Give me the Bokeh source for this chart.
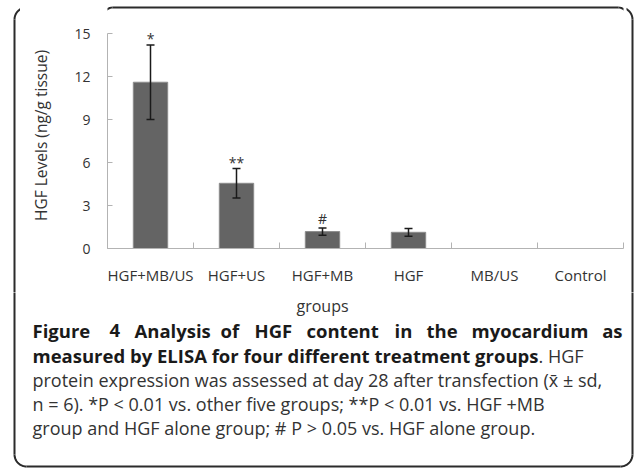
import numpy as np
from bokeh.plotting import figure
from bokeh.layouts import column, row
from bokeh.models import (ColumnDataSource, Whisker, FixedTicker, Range1d,
                          TeeHead)
from bokeh.embed import file_html
from bokeh.resources import INLINE
from bokeh.core.properties import value

# ---------------- data ----------------
groups = ["HGF+MB/US", "HGF+US", "HGF+MB", "HGF", "MB/US", "Control"]
means = [11.6, 4.55, 1.18, 1.13, 0.0, 0.0]
sds = [2.6, 1.03, 0.25, 0.27, 0.0, 0.0]
marks = ["*", "**", "#", "", "", ""]
y_ticks = [0, 3, 6, 9, 12, 15]
y_max = 15
y_label = "HGF Levels (ng/g tissue)"
x_label = "groups"
caption_line1 = ["Figure", "4", "Analysis", "of", "HGF", "content", "in", "the",
                 "myocardium", "as"]
caption_line2_bold = "measured by ELISA for four different treatment groups"
caption_line2_rest = ". HGF"
caption_line3 = "protein expression was assessed at day 28 after transfection (x\u0304 \u00b1 sd,"
caption_line4 = "n = 6). *P < 0.01 vs. other five groups; **P < 0.01 vs. HGF +MB"
caption_line5 = "group and HGF alone group; # P > 0.05 vs. HGF alone group."

FONT = "Open Sans"
PW, PH = 635, 469          # whole picture
TOP_H = 22                 # strip above the chart
SPLIT = 292                # page y where the caption area starts
LEFT_W, RIGHT_W = 20, 9
CHART_W = PW - LEFT_W - RIGHT_W
CHART_H = SPLIT - TOP_H
AX_TOP, AX_BOT, AX_LEFT, AX_RIGHT = 33, 248, 107, 623   # page px of the axes

# rounded frame around chart + caption (page pixel coordinates)
BX0, BX1, BY0, BY1, BR = 14, 632, 7, 466, 12
BOX_COLOR = "#2b2b2b"


def corner_arcs():
    """four quarter arcs + four straight edges of the rounded frame"""
    arcs_x, arcs_y = [], []
    for cxp, cyp, a0, a1 in [(BX1 - BR, BY0 + BR, -90, 0), (BX1 - BR, BY1 - BR, 0, 90),
                             (BX0 + BR, BY1 - BR, 90, 180), (BX0 + BR, BY0 + BR, 180, 270)]:
        t = np.radians(np.linspace(a0, a1, 12))
        arcs_x.append(list(cxp + BR * np.cos(t)))
        arcs_y.append(list(cyp + BR * np.sin(t)))
    edges_x = [[BX0 + BR, BX1 - BR], [BX1, BX1], [BX0 + BR, BX1 - BR], [BX0, BX0]]
    edges_y = [[BY0, BY0], [BY0 + BR, BY1 - BR], [BY1, BY1], [BY0 + BR, BY1 - BR]]
    return arcs_x + edges_x, arcs_y + edges_y


BOX_XS, BOX_YS = corner_arcs()


def strip(x0, x1, y0, y1):
    f = figure(width=x1 - x0, height=y1 - y0, x_range=Range1d(x0, x1),
               y_range=Range1d(y1, y0), x_axis_type=None, y_axis_type=None,
               min_border=0, toolbar_location=None, output_backend="svg",
               title=None)
    f.outline_line_color = None
    f.background_fill_color = "white"
    f.border_fill_color = "white"
    f.multi_line(BOX_XS, BOX_YS, line_color=BOX_COLOR, line_width=2)
    return f


# ---------------- chart ----------------
xs = [i + 0.5 for i in range(len(groups))]
src = ColumnDataSource(dict(x=xs, mean=means))
err_idx = [i for i, s in enumerate(sds) if s > 0]
err_src = ColumnDataSource(dict(
    x=[xs[i] for i in err_idx],
    upper=[means[i] + sds[i] for i in err_idx],
    lower=[means[i] - sds[i] for i in err_idx],
    mark=[marks[i] for i in err_idx],
    off=[-10 if "#" in marks[i] else -6 for i in err_idx],
))

px_per_unit = (AX_BOT - AX_TOP) / y_max
y_top = y_max + (AX_TOP - TOP_H) / px_per_unit

p = figure(width=CHART_W, height=CHART_H, output_backend="svg",
           toolbar_location=None, title=None,
           x_range=Range1d(0, len(groups)), y_range=Range1d(0, y_top),
           min_border_left=AX_LEFT - LEFT_W,
           min_border_right=LEFT_W + CHART_W - AX_RIGHT,
           min_border_top=0, min_border_bottom=SPLIT - AX_BOT)
p.grid.grid_line_color = None
p.outline_line_color = None
p.background_fill_color = "white"
p.border_fill_color = "white"

p.vbar(x="x", top="mean", width=0.4, source=src,
       fill_color="#646464", line_color="#8c8c8c", line_width=1)

head_kw = dict(size=8, line_color="#1a1a1a", line_width=1.5)
wh = Whisker(base="x", upper="upper", lower="lower", source=err_src,
             line_color="#1a1a1a", line_width=1.5, level="overlay",
             upper_head=TeeHead(**head_kw), lower_head=TeeHead(**head_kw))
p.add_layout(wh)

p.text(x="x", y="upper", text="mark", source=err_src, text_align="center",
       text_baseline="alphabetic", y_offset="off", text_font=value(FONT),
       text_font_size="14px", text_color="#333333")

axis_color = "#b3b3b3"
ya = p.yaxis[0]
ya.ticker = FixedTicker(ticks=y_ticks)
ya.bounds = (0, y_max)
ya.axis_line_color = axis_color
ya.major_tick_line_color = axis_color
ya.major_tick_in = 5
ya.major_tick_out = 0
ya.minor_tick_line_color = None
ya.major_label_text_font = FONT
ya.major_label_text_font_size = "14px"
ya.major_label_text_color = "#333333"
ya.major_label_standoff = 17
ya.axis_label = y_label
ya.axis_label_text_font = FONT
ya.axis_label_text_font_size = "15.5px"
ya.axis_label_text_font_style = "normal"
ya.axis_label_text_color = "#333333"
ya.axis_label_standoff = 19

xa = p.xaxis[0]
xa.ticker = FixedTicker(ticks=xs, minor_ticks=list(range(len(groups) + 1)))
xa.major_label_overrides = {x: g for x, g in zip(xs, groups)}
xa.axis_line_color = axis_color
xa.major_tick_in = 0
xa.major_tick_out = 0
xa.minor_tick_line_color = axis_color
xa.minor_tick_in = 6
xa.minor_tick_out = 0
xa.major_label_text_font = FONT
xa.major_label_text_font_size = "15px"
xa.major_label_text_color = "#333333"
xa.major_label_standoff = 16

# ---------------- strips carrying the frame ----------------
left = strip(0, LEFT_W, 0, SPLIT)
right = strip(PW - RIGHT_W, PW, 0, SPLIT)
top_mid = strip(LEFT_W, PW - RIGHT_W, 0, TOP_H)
cap = strip(0, PW, SPLIT, PH)

# x axis title (sits just under the chart)
cap.text(x=[322], y=[305], text=[x_label], text_font=value(FONT),
         text_font_size="16px", text_color="#333333", text_baseline="middle",
         text_align="center")

# ---------------- caption ----------------
BOLD = "18.5px"
line1_x = [32, 109, 134, 220, 254, 306, 394, 426, 471]
cap.text(x=line1_x, y=[330] * len(line1_x), text=caption_line1[:-1],
         text_font=value(FONT), text_font_size=BOLD, text_font_style="bold",
         text_color="#1a1a1a", text_baseline="middle", text_align="left")
cap.text(x=[622], y=[330], text=caption_line1[-1:],
         text_font=value(FONT), text_font_size=BOLD, text_font_style="bold",
         text_color="#1a1a1a", text_baseline="middle", text_align="right")
cap.text(x=[32], y=[355], text=[caption_line2_bold],
         text_font=value(FONT), text_font_size=BOLD, text_font_style="bold",
         text_color="#1a1a1a", text_baseline="middle", text_align="left")
cap.text(x=[538], y=[355], text=[caption_line2_rest],
         text_font=value(FONT), text_font_size="18px",
         text_color="#333333", text_baseline="middle", text_align="left")
cap.text(x=[32, 32, 32], y=[379, 403, 427],
         text=[caption_line3, caption_line4, caption_line5],
         text_font=value(FONT), text_font_size="18px",
         text_color="#333333", text_baseline="middle", text_align="left")

layout = column(row(left, column(top_mid, p), right), cap)
open("out.html", "w").write(file_html(layout, INLINE))
